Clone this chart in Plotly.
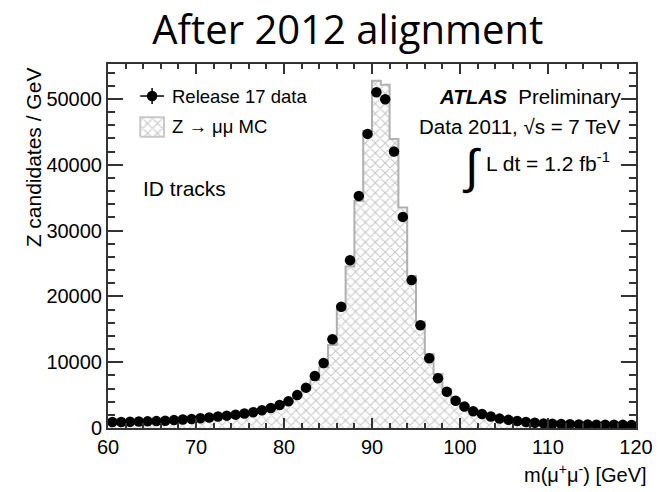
import plotly.graph_objects as go

# ---- data ----
bin_centers = [60.5 + i for i in range(60)]
data_counts = [900, 910, 950, 990, 1010, 1050, 1110, 1200, 1300, 1370,
               1470, 1600, 1750, 1880, 2030, 2200, 2400, 2700, 3050, 3500,
               4050, 5000, 6130, 7900, 9880, 13480, 18430, 25490, 35260, 44680,
               51000, 49950, 41990, 32070, 22470, 15600, 10600, 7550, 5520, 4130,
               3260, 2550, 2120, 1760, 1430, 1240, 1060, 900, 790, 700,
               640, 600, 570, 550, 530, 510, 500, 490, 480, 470]
mc_counts = [860, 870, 900, 940, 960, 1000, 1050, 1130, 1220, 1290,
             1390, 1510, 1650, 1780, 1920, 2080, 2280, 2570, 2900, 3330,
             3850, 4750, 5850, 7290, 9220, 12610, 17940, 24520, 34500, 45140,
             52740, 52130, 43920, 33500, 23100, 16150, 11250, 8200, 5900, 4400,
             3420, 2680, 2200, 1800, 1480, 1270, 1080, 920, 800, 710,
             650, 610, 580, 555, 535, 515, 505, 495, 485, 475]
bin_width = 1.0
x_ticks = [60, 70, 80, 90, 100, 110, 120]
y_ticks = [0, 10000, 20000, 30000, 40000, 50000]
y_ticktext = ["0", "10000", "20000", "30000", "40000", "50000"]

FONT = "Liberation Sans"
GRAY = "#b0b0b0"
AX = "#333333"
HATCH = dict(shape="x", fgcolor="#8c8c8c", bgcolor="white", size=7, solidity=0.28)

fig = go.Figure()

# hatched MC histogram (fill)
fig.add_trace(go.Bar(
    x=bin_centers, y=mc_counts, width=bin_width,
    marker=dict(color="white", line=dict(width=0), pattern=HATCH),
    showlegend=False, hoverinfo="skip"))

# step outline of MC histogram
edges = [c - bin_width / 2 for c in bin_centers] + [bin_centers[-1] + bin_width / 2]
fig.add_trace(go.Scatter(
    x=edges, y=mc_counts + [mc_counts[-1]], mode="lines",
    line=dict(shape="hv", color=GRAY, width=2),
    showlegend=False, hoverinfo="skip"))

# data points
fig.add_trace(go.Scatter(
    x=bin_centers, y=data_counts, mode="markers",
    marker=dict(color="black", size=10.5),
    showlegend=False))

# ---- legend glyphs on overlay axes in plot-fraction coordinates ----
fig.add_trace(go.Scatter(
    x=[0.0835], y=[0.912], mode="markers", xaxis="x2", yaxis="y2",
    marker=dict(color="black", size=10.5),
    error_x=dict(type="data", array=[0.0225], color="black", thickness=1.5, width=0),
    error_y=dict(type="data", array=[0.022], color="black", thickness=1.5, width=0),
    showlegend=False, hoverinfo="skip"))
fig.add_trace(go.Scatter(
    x=[0.061, 0.106, 0.106, 0.061, 0.061], y=[0.800, 0.800, 0.854, 0.854, 0.800],
    mode="lines", fill="toself", xaxis="x2", yaxis="y2",
    line=dict(color="#c8c8c8", width=2),
    fillcolor="white", fillpattern=HATCH,
    showlegend=False, hoverinfo="skip"))

ann = []
def txt(x, y, s, size=18, xa="left", ya="middle", **kw):
    ann.append(dict(x=x, y=y, xref="paper", yref="paper", text=s, showarrow=False,
                    xanchor=xa, yanchor=ya, font=dict(family=FONT, size=size, color="black"), **kw))

txt(0.117, 0.912, "Release 17 data", size=18.5)
txt(0.117, 0.827, "Z → μμ MC", size=18.5)
txt(0.063, 0.659, "ID tracks", size=21)
txt(0.975, 0.912, "<b><i>ATLAS</i></b>  Preliminary", size=20.5, xa="right")
txt(0.975, 0.827, "Data 2011, √s = 7 TeV", size=20.5, xa="right")
txt(0.689, 0.716, "∫", size=48, xa="center")
txt(0.712, 0.730, "L dt = 1.2 fb<sup>-1</sup>", size=21)
# axis titles
txt(1.024, -0.124, "m(μ<sup>+</sup>μ<sup>-</sup>) [GeV]", size=20, xa="right")
txt(-0.141, 0.995, "Z candidates / GeV", size=21, xa="center", ya="top", textangle=-90)

fig.update_layout(
    width=665, height=492,
    margin=dict(l=108, r=18, t=64, b=64),
    paper_bgcolor="white", plot_bgcolor="white",
    bargap=0,
    title=dict(text="After 2012 alignment", x=0.523, xanchor="center",
               y=1 - 30 / 492, yanchor="middle", yref="container",
               font=dict(family="Open Sans", size=40, color="black")),
    annotations=ann,
    xaxis=dict(range=[60, 120], tickvals=x_ticks, ticks="inside", ticklen=10,
               tickwidth=1.5, tickcolor=AX, showline=True, linecolor=AX, linewidth=2,
               mirror="ticks", showgrid=False, zeroline=False,
               tickfont=dict(family=FONT, size=20, color="black"),
               minor=dict(dtick=2, ticks="inside", ticklen=5, tickcolor=AX, tickwidth=1.5, showgrid=False)),
    yaxis=dict(range=[0, 55300], tickvals=y_ticks, ticktext=y_ticktext, ticks="inside", ticklen=15,
               tickwidth=1.5, tickcolor=AX, showline=True, linecolor=AX, linewidth=2,
               mirror="ticks", showgrid=False, zeroline=False,
               tickfont=dict(family=FONT, size=20, color="black"),
               minor=dict(dtick=2000, ticks="inside", ticklen=7, tickcolor=AX, tickwidth=1.5, showgrid=False)),
    xaxis2=dict(range=[0, 1], overlaying="x", visible=False, anchor="y2"),
    yaxis2=dict(range=[0, 1], overlaying="y", visible=False, anchor="x2"),
)

fig.write_html("out.html")
